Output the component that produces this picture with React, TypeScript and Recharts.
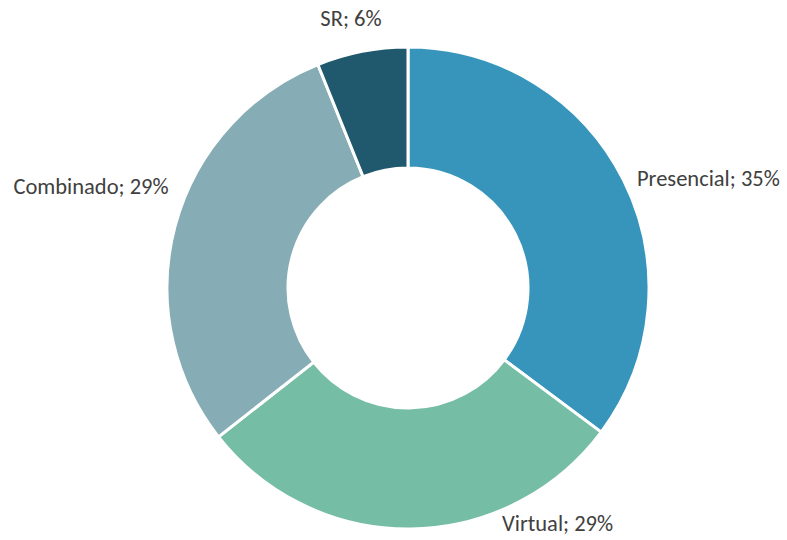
import React from "react";
import { PieChart, Pie, Cell } from "recharts";

const categories = ["Presencial", "Virtual", "Combinado", "SR"];
const values = [35.2, 29.2, 29.5, 6.1];
const percentLabels = [35, 29, 29, 6];
const colors = ["#3795BC", "#76BDA5", "#86ACB5", "#20596D"];

const data = categories.map((name, i) => ({ name, value: values[i], pct: percentLabels[i] }));

// small angular nudges (degrees) applied to label placement, mimicking best-fit placement
const labelNudge = [-1, 21, -8, 1];

const RAD = Math.PI / 180;

const renderLabel = (props: any) => {
  const { cx, cy, midAngle, outerRadius, index } = props;
  const ang = midAngle + labelNudge[index];
  const c = Math.cos(-ang * RAD);
  const s = Math.sin(-ang * RAD);
  let anchor: "start" | "end" | "middle" = "middle";
  if (c > 0.3) anchor = "start";
  else if (c < -0.3) anchor = "end";
  const r = anchor === "middle" ? outerRadius + 34 : anchor === "end" ? outerRadius + 19 : outerRadius + 13;
  const x = cx + r * c;
  const y = cy + r * s;
  const d = data[index];
  return (
    <text
      x={x}
      y={y}
      textAnchor={anchor}
      dominantBaseline="central"
      fill="#404040"
      fontSize={22.5}
      fontFamily="Carlito, 'Open Sans', sans-serif"
    >
      {`${d.name}; ${d.pct}%`}
    </text>
  );
};

export default function App() {
  return (
    <div style={{ position: "fixed", left: 0, top: 0, width: 787, height: 540, background: "#fff" }}>
      <PieChart width={787} height={540} margin={{ top: 0, right: 0, bottom: 0, left: 0 }}>
        <Pie
          data={data}
          dataKey="value"
          nameKey="name"
          cx={408}
          cy={288}
          innerRadius={120}
          outerRadius={241}
          startAngle={90}
          endAngle={-270}
          stroke="#ffffff"
          strokeWidth={3}
          label={renderLabel}
          labelLine={false}
          isAnimationActive={false}
        >
          {data.map((d, i) => (
            <Cell key={d.name} fill={colors[i]} />
          ))}
        </Pie>
      </PieChart>
    </div>
  );
}
